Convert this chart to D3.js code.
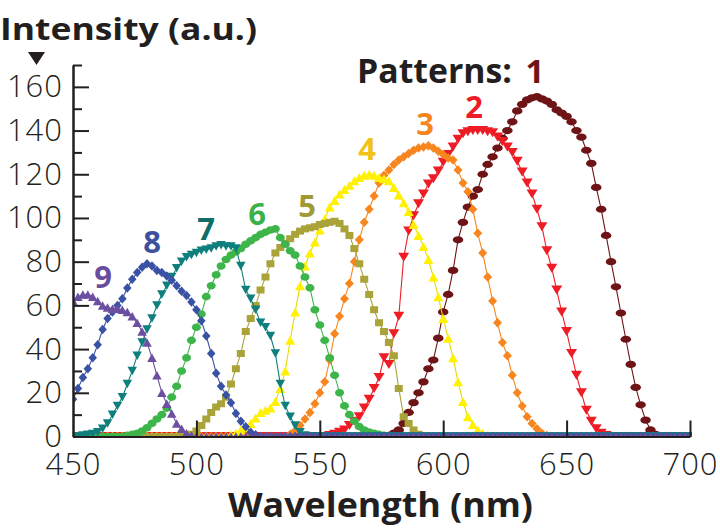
<!DOCTYPE html>
<html><head><meta charset="utf-8">
<script src="https://cdn.jsdelivr.net/npm/d3@7"></script>
<style>
html,body{margin:0;padding:0;background:#fff;}
svg{display:block;}
text{font-family:"Open Sans",sans-serif;fill:#231f20;}
</style></head><body>
<svg id="chart" width="720" height="532"></svg>
<script>
// ---------- data ----------
const wavelengths = d3.range(450, 701, 2); // 450..700 nm sampling grid
const patternNames = ["1","2","3","4","5","6","7","8","9"];

const pattern1 = [
0,0,0,0,0,0,0,0,0,0,
0,0,0,0,0,0,0,0,0,0,
0,0,0,0,0,0,0,0,0,0,
0,0,0,0,0,0,0,0,0,0,
0,0,0,0,0,0,0,0,0,0,
0,0,0,0,0,0,0,0,0,0,
0,0,0,0,0.5,1.5,3,6,11,15.5,
20,25,31,35,45,57,65,76,90,98,
105,110,113,120,124.5,128,132,136.5,140,144,
149,152,154,155,155.5,154.5,153.5,152,149.5,148,
146.5,144,140,137,131,125,114,104,92,80,
68.5,56.5,44.5,33,22.5,14.5,7.5,3,1,0,
0,0,0,0,0,0];
const pattern2 = [
0,0,0,0,0,0,0,0,0,0,
0,0,0,0,0,0,0,0,0,0,
0,0,0,0,0,0,0,0,0,0,
0,0,0,0,0,0,0,0,0,0,
0,0,0,0,0,0,0,0,0,0,
0,0,0.5,1,2,3,5,7,9,13,
17,22,27,36,33,47,55,82,94,101,
106.5,111,115.5,118,121.5,125.5,129,132.5,136,138.5,
139.5,140,140,140,139.5,139,137,135,132.5,130,
126,121,116,111,104,96,85,77,67,57,
48,38,28,20,12,7,3.5,1.5,0.5,0,
0,0,0,0,0,0,0,0,0,0,
0,0,0,0,0,0];
const pattern3 = [
0,0,0,0,0,0,0,0,0,0,
0,0,0,0,0,0,0,0,0,0,
0,0,0,0,0,0,0,0,0,0,
0,0,0,0,0,0,0,0,0,0,
0,0,0,0,1,2.5,5,8,11,15,
20,25,35,47,55,63,70,80,90,98,
104,110,116,119.5,122,124.5,126.5,128,129.5,131,
132,132.5,133,132,130.5,129,127.5,126.5,122,116,
112,104,93,84,73,62,52,43,37,28,
20,14,9,6,3.5,1.5,0.5,0,0,0,
0,0,0,0,0,0,0,0,0,0,
0,0,0,0,0,0,0,0,0,0,
0,0,0,0,0,0];
const pattern4 = [
0,0,0,0,0,0,0,0,0,0,
0,0,0,0,0,0,0,0,0,0,
0,0,0,0,0,0,0,0,0,0,
0,0,0.8,1.5,3,4,6,8.5,11,12,
13,16,22,30,44,57,69,78,84,89,
94.5,99.5,105,108,111,113,115,117,118.5,119.5,
120,119.5,118.5,118,117,114,110.5,107,103,97,
92,87,81,73,64,54,45,36,25,16,
9,5.5,3,1.5,0.5,0,0,0,0,0,
0,0,0,0,0,0,0,0,0,0,
0,0,0,0,0,0,0,0,0,0,
0,0,0,0,0,0,0,0,0,0,
0,0,0,0,0,0];
const pattern5 = [
0,0,0,0,0,0,0,0,0,0,
0,0,0,0,0,0,0,0,0,0,
0,0,0,0,1,2.5,5,8,11,13.5,
15,18,24,31,38,48,54,60,67,73,
79,84,86.5,88.5,90.5,92.5,94,95,95.5,96,
97,97.5,98,98.5,97.5,95,92,86,79,72,
65,58,52,48,43,37,22,9,6,3,
1,0,0,0,0,0,0,0,0,0,
0,0,0,0,0,0,0,0,0,0,
0,0,0,0,0,0,0,0,0,0,
0,0,0,0,0,0,0,0,0,0,
0,0,0,0,0,0,0,0,0,0,
0,0,0,0,0,0];
const pattern6 = [
0,0,0,0,0,0,0,0,0,0,
0,0.5,1,1.5,2.5,4,6,8,10,13,
18,23,30,36,44,50,56,64,69,74,
78,81,83,84.5,86,88,89.5,91,92.5,93.5,
94.5,95,91,88,85,83,78,73,68,58,
51,44,36,28,20,14,10,7,4.5,3,
2,1.5,1,0.5,0,0,0,0,0,0,
0,0,0,0,0,0,0,0,0,0,
0,0,0,0,0,0,0,0,0,0,
0,0,0,0,0,0,0,0,0,0,
0,0,0,0,0,0,0,0,0,0,
0,0,0,0,0,0,0,0,0,0,
0,0,0,0,0,0];
const pattern7 = [
0,0,0.5,0.8,1.2,2,3.5,6,10,14,
18,24,30,37,43,49,54,60,65,69,
73,77,80,82,83,84,85,85.5,86,87,
87.5,87,87,86,78,67,63,58,52,50,
46,38,24,14,9,5,2,0.5,0,0,
0,0,0,0,0,0,0,0,0,0,
0,0,0,0,0,0,0,0,0,0,
0,0,0,0,0,0,0,0,0,0,
0,0,0,0,0,0,0,0,0,0,
0,0,0,0,0,0,0,0,0,0,
0,0,0,0,0,0,0,0,0,0,
0,0,0,0,0,0,0,0,0,0,
0,0,0,0,0,0];
const pattern8 = [
17,22,27,31,36,42,49,54,57,60,
63,68,72,75,77.5,79,78,76,75,73.5,
71.5,69,66.5,64.5,61.5,58,53,46,38,29,
23,19,15.5,10.5,7,4.5,2,0.8,0,0,
0,0,0,0,0,0,0,0,0,0,
0,0,0,0,0,0,0,0,0,0,
0,0,0,0,0,0,0,0,0,0,
0,0,0,0,0,0,0,0,0,0,
0,0,0,0,0,0,0,0,0,0,
0,0,0,0,0,0,0,0,0,0,
0,0,0,0,0,0,0,0,0,0,
0,0,0,0,0,0,0,0,0,0,
0,0,0,0,0,0];
const pattern9 = [
62,64,65,65,64,62,60,59,58.5,58.5,
58,57,55,52,48,43,36,28,20,15,
10.5,6,3.5,1.5,0.5,0,0,0,0,0,
0,0,0,0,0,0,0,0,0,0,
0,0,0,0,0,0,0,0,0,0,
0,0,0,0,0,0,0,0,0,0,
0,0,0,0,0,0,0,0,0,0,
0,0,0,0,0,0,0,0,0,0,
0,0,0,0,0,0,0,0,0,0,
0,0,0,0,0,0,0,0,0,0,
0,0,0,0,0,0,0,0,0,0,
0,0,0,0,0,0,0,0,0,0,
0,0,0,0,0,0];

const seriesValues = [pattern1,pattern2,pattern3,pattern4,pattern5,pattern6,pattern7,pattern8,pattern9];
const xTickValues = [450,500,550,600,650,700];
const yTickValues = [0,20,40,60,80,100,120,140,160];
const yMinorTickValues = [10,30,50,70,90,110,130,150,170];

// ---------- styles / layout ----------
const markerColors = ["#6e1416","#ee1c25","#f7861e","#fff100","#a9a339","#3db54a","#0e7f7d","#3a52a3","#6c4fa0"];
const lineColors   = ["#6e1416","#ee1c25","#f7861e","#e6da00","#a9a339","#3db54a","#0e7f7d","#3a52a3","#6c4fa0"];
const labelColors  = ["#6e1416","#ee1c25","#f7861e","#f0c21a","#a09a35","#3cb14a","#0e6e6b","#3c50a0","#6a4c9c"];
const markerShapes = ["ellipse","tridown","diamond","triup","square","ellipse","tridown","diamond","triup"];
const markerSizes  = [[10.5,7.2],[11,9],[9,9.5],[10,9],[8,7],[9,7.6],[9.5,8.5],[8.5,9.5],[9.5,8.5]];
const labelPos = [[535,83],[474,118],[425,135],[367,160],[307,217],[257,225],[206,240],[152,253],[103,288]];

const svg = d3.select("#chart");
const x = d3.scaleLinear().domain([450,700]).range([73,690]);
const y = d3.scaleLinear().domain([0,170]).range([436.5,65]);

function shapePath(shape, w, h){
  const a=w/2, b=h/2;
  switch(shape){
    case "ellipse": return `M${-a},0a${a},${b} 0 1,0 ${w},0a${a},${b} 0 1,0 ${-w},0Z`;
    case "tridown": return `M${-a},${-b}L${a},${-b}L0,${b}Z`;
    case "triup":   return `M${-a},${b}L${a},${b}L0,${-b}Z`;
    case "diamond": return `M0,${-b}L${a},0L0,${b}L${-a},0Z`;
    default:        return `M${-a},${-b}H${a}V${b}H${-a}Z`;
  }
}

svg.append("defs").append("clipPath").attr("id","plotclip")
  .append("rect").attr("x",x(450)).attr("y",0).attr("width",x(700)-x(450)+2).attr("height",y(0));

const plot = svg.append("g").attr("clip-path","url(#plotclip)");
const line = d3.line().x(d=>x(d[0])).y(d=>y(d[1]));

seriesValues.forEach((vals,i)=>{
  const pts = wavelengths.map((w,j)=>[w, vals[j]]);
  const g = plot.append("g");
  g.append("path").attr("d",line(pts)).attr("fill","none")
    .attr("stroke",lineColors[i]).attr("stroke-width",1.1);
  const [mw,mh] = markerSizes[i];
  g.selectAll("path.m").data(pts).join("path").attr("class","m")
    .attr("transform",d=>`translate(${x(d[0])},${y(d[1])})`)
    .attr("d",shapePath(markerShapes[i],mw,mh))
    .attr("fill",markerColors[i]);
});

// ---------- axes ----------
const axisStyle = g=>{
  g.selectAll(".domain").attr("stroke","#231f20").attr("stroke-width",2);
  g.selectAll(".tick line").attr("stroke","#231f20").attr("stroke-width",2);
  g.selectAll(".tick text").attr("fill","#231f20").style("font-size","31px").style("font-weight","300")
    .style("font-family","'Open Sans',sans-serif").style("letter-spacing","1px");
};

svg.append("g").attr("transform",`translate(${x(450)},0)`)
  .call(d3.axisLeft(y).tickValues(yMinorTickValues).tickSizeInner(-9).tickSizeOuter(0).tickFormat(""))
  .call(axisStyle);
svg.append("g").attr("transform",`translate(${x(450)},0)`)
  .call(d3.axisLeft(y).tickValues(yTickValues).tickSizeInner(-16).tickSizeOuter(0).tickPadding(10))
  .call(axisStyle);
svg.append("g").attr("transform",`translate(0,${y(0)})`)
  .call(d3.axisBottom(x).tickValues(xTickValues).tickSizeInner(-16).tickSizeOuter(0).tickPadding(16))
  .call(axisStyle)
  .call(g=>g.selectAll(".tick").filter(d=>d===450).select("line").remove());

// ---------- titles ----------
svg.append("text").attr("x",0).attr("y",40)
  .attr("textLength",257).attr("lengthAdjust","spacingAndGlyphs")
  .style("font-size","31px").style("font-weight","700").text("Intensity (a.u.)");
svg.append("path").attr("d","M28,52L45,52L36.5,65Z").attr("fill","#231f20");

svg.append("text").attr("x",380.5).attr("y",517).attr("text-anchor","middle")
  .attr("textLength",305).attr("lengthAdjust","spacingAndGlyphs")
  .style("font-size","34px").style("font-weight","700").text("Wavelength (nm)");

svg.append("text").attr("x",357).attr("y",83)
  .attr("textLength",155).attr("lengthAdjust","spacingAndGlyphs")
  .style("font-size","34px").style("font-weight","700").text("Patterns:");

patternNames.forEach((n,i)=>{
  svg.append("text").attr("x",labelPos[i][0]).attr("y",labelPos[i][1])
    .attr("text-anchor","middle").style("font-size",i===0?"33px":"31px").style("font-weight","700")
    .style("fill",labelColors[i]).text(n);
});
</script>
</body></html>
